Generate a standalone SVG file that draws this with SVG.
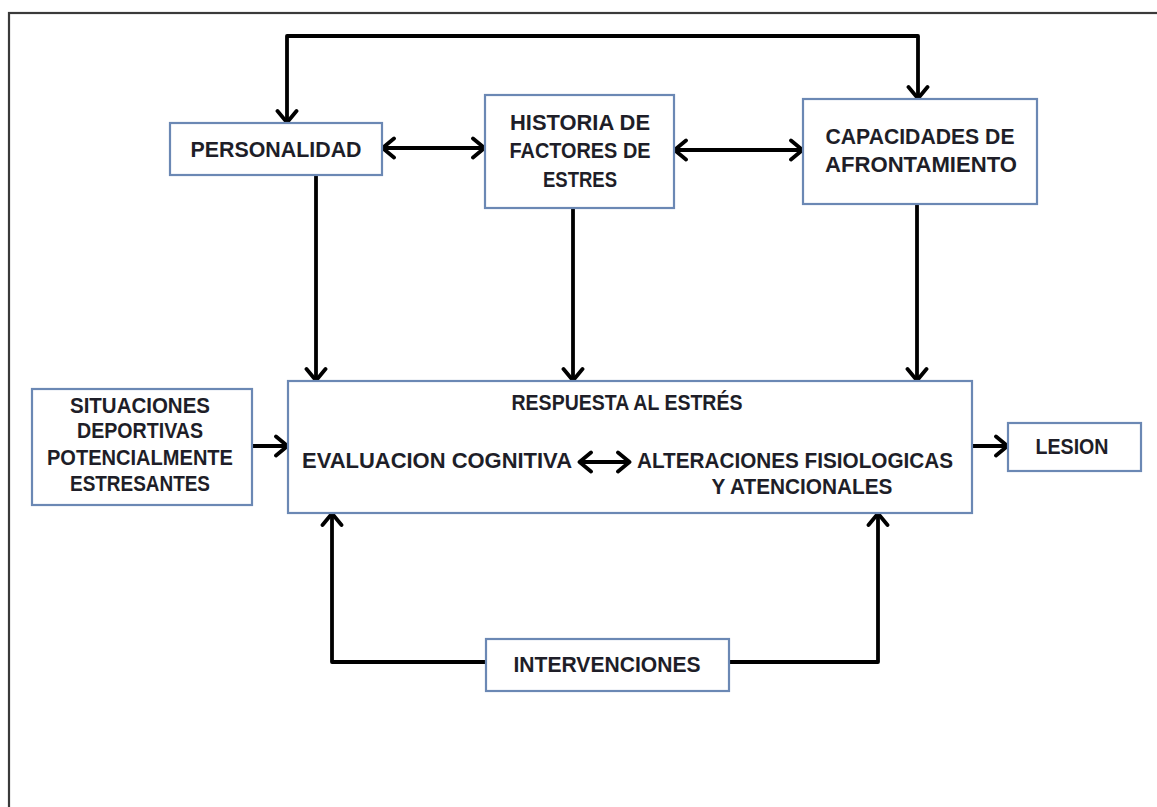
<svg xmlns="http://www.w3.org/2000/svg" width="1157" height="807" viewBox="0 0 1157 807">
  <style>
    .frame { fill: none; stroke: #3a3a3a; stroke-width: 2.2; }
    .box { fill: #ffffff; stroke: #6b88b4; stroke-width: 2.2; }
    .lbl { font-family: "Liberation Sans", Arial, sans-serif; font-weight: bold; font-size: 22px; fill: #1e1e28; text-anchor: middle; }
    .wire { fill: none; stroke: #000000; stroke-width: 3.8; stroke-linejoin: round; }
  </style>
  <defs>
    <marker id="head" viewBox="0 0 24 24" refX="21" refY="12" markerWidth="24" markerHeight="24" markerUnits="userSpaceOnUse" orient="auto-start-reverse">
      <path d="M9,2.5 L20.5,12 L9,21.5" fill="none" stroke="#000000" stroke-width="3.8" stroke-linecap="round" stroke-linejoin="round"/>
    </marker>
  </defs>

  <rect width="1157" height="807" fill="#ffffff"/>
  <!-- page border -->
  <rect class="frame" x="9" y="13" width="1170" height="820"/>

  <!-- connectors -->
  <g id="connectors">
    <path class="wire" d="M287,123 V36 H918 V99" marker-start="url(#head)" marker-end="url(#head)"/>
    <path class="wire" d="M382,148 H485" marker-start="url(#head)" marker-end="url(#head)"/>
    <path class="wire" d="M674,150 H803" marker-start="url(#head)" marker-end="url(#head)"/>
    <path class="wire" d="M316,175 V381" marker-end="url(#head)"/>
    <path class="wire" d="M573,208 V381" marker-end="url(#head)"/>
    <path class="wire" d="M917,204 V381" marker-end="url(#head)"/>
    <path class="wire" d="M252,446 H288" marker-end="url(#head)"/>
    <path class="wire" d="M972,446 H1008" marker-end="url(#head)"/>
    <path class="wire" d="M486,662 H332 V513" marker-end="url(#head)"/>
    <path class="wire" d="M729,662 H878 V513" marker-end="url(#head)"/>
  </g>

  <g id="personalidad">
    <rect class="box" x="170" y="123" width="212" height="52"/>
    <text class="lbl" x="276" y="157" textLength="171" lengthAdjust="spacingAndGlyphs">PERSONALIDAD</text>
  </g>

  <g id="historia">
    <rect class="box" x="485" y="95" width="189" height="113"/>
    <text class="lbl" x="580" y="130" textLength="140" lengthAdjust="spacingAndGlyphs">HISTORIA DE</text>
    <text class="lbl" x="580" y="158" textLength="141" lengthAdjust="spacingAndGlyphs">FACTORES DE</text>
    <text class="lbl" x="580" y="187" textLength="74" lengthAdjust="spacingAndGlyphs">ESTRES</text>
  </g>

  <g id="capacidades">
    <rect class="box" x="803" y="99" width="234" height="105"/>
    <text class="lbl" x="920" y="144" textLength="189" lengthAdjust="spacingAndGlyphs">CAPACIDADES DE</text>
    <text class="lbl" x="921" y="172" textLength="192" lengthAdjust="spacingAndGlyphs">AFRONTAMIENTO</text>
  </g>

  <g id="situaciones">
    <rect class="box" x="32" y="389" width="220" height="116"/>
    <text class="lbl" x="140" y="413" textLength="140" lengthAdjust="spacingAndGlyphs">SITUACIONES</text>
    <text class="lbl" x="140" y="438" textLength="126" lengthAdjust="spacingAndGlyphs">DEPORTIVAS</text>
    <text class="lbl" x="140" y="465" textLength="186" lengthAdjust="spacingAndGlyphs">POTENCIALMENTE</text>
    <text class="lbl" x="140" y="491" textLength="140" lengthAdjust="spacingAndGlyphs">ESTRESANTES</text>
  </g>

  <g id="respuesta">
    <rect class="box" x="288" y="381" width="684" height="132"/>
    <text class="lbl" x="627" y="410" textLength="231" lengthAdjust="spacingAndGlyphs">RESPUESTA AL ESTRÉS</text>
    <text class="lbl" x="437" y="468" textLength="270" lengthAdjust="spacingAndGlyphs">EVALUACION COGNITIVA</text>
    <path class="wire" d="M579,462 H630" marker-start="url(#head)" marker-end="url(#head)"/>
    <text class="lbl" x="795" y="468" textLength="316" lengthAdjust="spacingAndGlyphs">ALTERACIONES FISIOLOGICAS</text>
    <text class="lbl" x="802" y="494" textLength="181" lengthAdjust="spacingAndGlyphs">Y ATENCIONALES</text>
  </g>

  <g id="lesion">
    <rect class="box" x="1008" y="423" width="133" height="48"/>
    <text class="lbl" x="1072" y="454" textLength="73" lengthAdjust="spacingAndGlyphs">LESION</text>
  </g>

  <g id="intervenciones">
    <rect class="box" x="486" y="639" width="243" height="52"/>
    <text class="lbl" x="607" y="672" textLength="187" lengthAdjust="spacingAndGlyphs">INTERVENCIONES</text>
  </g>
</svg>
